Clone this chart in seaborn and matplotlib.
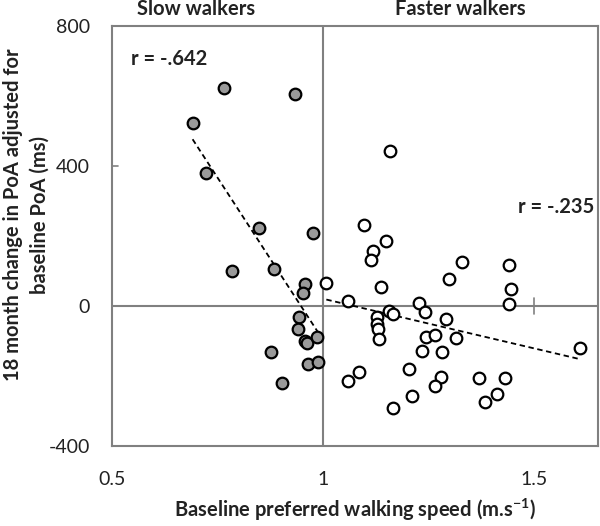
import matplotlib
matplotlib.use("Agg")
import matplotlib.pyplot as plt
import seaborn as sns
import numpy as np
import pandas as pd

# Slow walkers (filled grey)
slow_x = [0.765, 0.934, 0.691, 0.723, 0.848, 0.977, 0.785, 0.884, 0.957, 0.952,
          0.943, 0.941, 0.957, 0.961, 0.987, 0.876, 0.965, 0.989, 0.904]
slow_y = [622, 605, 524, 379, 224, 209, 100, 105, 63, 38,
          -30, -67, -100, -106, -88, -132, -166, -159, -221]

# Faster walkers (open)
fast_x = [1.008, 1.060, 1.159, 1.097, 1.149, 1.119, 1.115, 1.329, 1.441, 1.298,
          1.137, 1.445, 1.227, 1.441, 1.157, 1.165, 1.242, 1.127, 1.127, 1.130,
          1.133, 1.291, 1.244, 1.265, 1.315, 1.235, 1.281, 1.609, 1.086, 1.060,
          1.204, 1.279, 1.265, 1.210, 1.165, 1.370, 1.431, 1.412, 1.384]
fast_y = [67, 15, 444, 231, 187, 158, 131, 125, 118, 76,
          55, 49, 9, 6, -13, -23, -16, -32, -50, -66,
          -95, -38, -89, -83, -92, -128, -132, -119, -188, -214,
          -180, -202, -228, -256, -291, -205, -207, -250, -273]

x_ticks = [0.5, 1, 1.5]
y_ticks = [-400, 0, 400, 800]

sns.set_theme(style="white")
plt.rcParams['font.family'] = ['Lato', 'DejaVu Sans']

fig = plt.figure(figsize=(6, 5.26), dpi=100)
ax = fig.add_axes([0.1867, 0.152, 0.81, 0.7986])

slow = pd.DataFrame({"x": slow_x, "y": slow_y})
fast = pd.DataFrame({"x": fast_x, "y": fast_y})

grey = "#808080"
ax.axvline(1, color=grey, lw=1.5, zorder=1)
ax.axhline(0, color=grey, lw=1.5, zorder=1)

sns.regplot(data=slow, x="x", y="y", ax=ax, ci=None, scatter=False,
            line_kws=dict(color="black", lw=1.3, ls=(0, (3, 2)), zorder=2))
sns.regplot(data=fast, x="x", y="y", ax=ax, ci=None, scatter=False,
            line_kws=dict(color="black", lw=1.3, ls=(0, (3, 2)), zorder=2))

sns.scatterplot(data=slow, x="x", y="y", ax=ax, s=70, color="#9a9a9a",
                edgecolor="black", linewidth=1.6, zorder=3)
sns.scatterplot(data=fast, x="x", y="y", ax=ax, s=70, color="white",
                edgecolor="black", linewidth=1.6, zorder=3)

ax.set_xlim(0.5, 1.652)
ax.set_ylim(-400, 800)
ax.set_xticks(x_ticks)
ax.set_xticklabels(["0.5", "1", "1.5"])
ax.set_yticks(y_ticks)
ax.set_yticklabels([str(v) for v in y_ticks])
ax.tick_params(axis="both", length=0, labelsize=14, colors="#222222")
ax.tick_params(axis="y", pad=16)
ax.tick_params(axis="x", pad=18)

for s in ax.spines.values():
    s.set_color(grey)
    s.set_linewidth(1.5)

# small tick marks as in the original
ax.plot([0.5, 0.515], [400, 400], color=grey, lw=1.2, zorder=1)
ax.plot([1.5, 1.5], [-22, 22], color=grey, lw=1.2, zorder=1)

ax.set_xlabel("Baseline preferred walking speed (m.s$^{\\mathregular{-1}}$)",
              fontsize=14.5, fontweight="bold", color="#222222")
ax.xaxis.label.set_va("center")
ax.xaxis.set_label_coords(0.5, -0.152)
ax.set_ylabel("18 month change in PoA adjusted for\nbaseline PoA (ms)",
              fontsize=14.5, fontweight="bold", color="#222222",
              linespacing=1.4)
ax.yaxis.label.set_va("center")
ax.yaxis.set_label_coords(-0.177, 0.55)

ax.text(0.7, 848, "Slow walkers", ha="center", va="center", fontsize=14.5,
        fontweight="bold", color="#222222", clip_on=False)
ax.text(1.325, 848, "Faster walkers", ha="center", va="center", fontsize=14.5,
        fontweight="bold", color="#222222", clip_on=False)
ax.text(0.545, 705, "r = -.642", ha="left", va="center", fontsize=14.5,
        fontweight="bold", color="#222222")
ax.text(1.643, 283, "r = -.235", ha="right", va="center", fontsize=14.5,
        fontweight="bold", color="#222222")

fig.savefig("out.png", dpi=100)
